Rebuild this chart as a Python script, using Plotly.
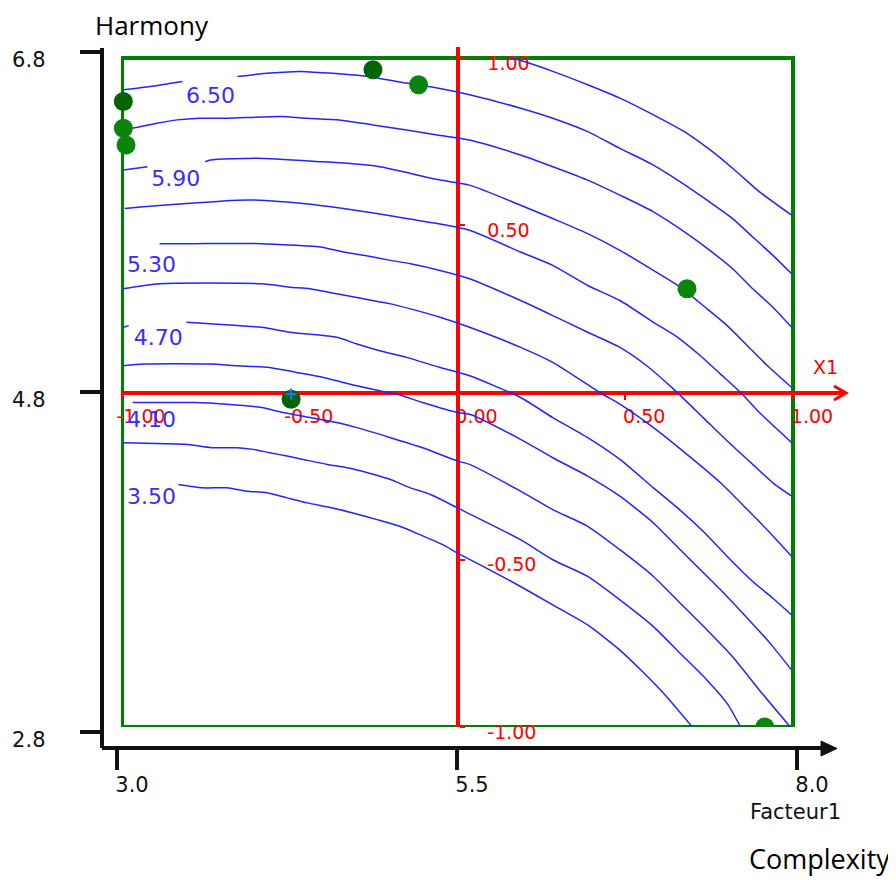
import plotly.graph_objects as go

# ---------------- data (Facteur1 / Harmony real units) ----------------
levels = [6.80, 6.50, 6.20, 5.90, 5.60, 5.30, 5.00, 4.70, 4.40, 4.10, 3.80, 3.50]

c680_x = [5.90, 5.99, 6.21, 6.47, 6.71, 6.96, 7.21, 7.40, 7.58, 7.75, 7.99]
c680_y = [6.80, 6.78, 6.72, 6.64, 6.56, 6.46, 6.35, 6.24, 6.12, 6.00, 5.86]

c650_x = [3.01, 3.21, 3.45, None, 3.86, 4.10, 4.33, 4.54, 4.83, 5.12, 5.35, 5.59, 5.97,
          6.21, 6.47, 6.71, 6.96, 7.16, 7.36, 7.55, 7.70, 7.85, 7.99]
c650_y = [6.61, 6.63, 6.66, None, 6.69, 6.71, 6.72, 6.71, 6.69, 6.65, 6.62, 6.58, 6.50,
          6.44, 6.36, 6.26, 6.16, 6.06, 5.95, 5.84, 5.73, 5.62, 5.51]

c620_x = [3.01, 3.08, 3.26, 3.41, 3.58, 3.78, 4.18, 4.38, 4.62, 4.87, 5.12, 5.35, 5.59,
          5.97, 6.21, 6.47, 6.71, 6.96, 7.21, 7.38, 7.55, 7.70, 7.85, 7.99]
c620_y = [6.38, 6.38, 6.41, 6.43, 6.44, 6.44, 6.45, 6.44, 6.43, 6.40, 6.37, 6.34, 6.31,
          6.22, 6.15, 6.07, 5.98, 5.88, 5.75, 5.65, 5.54, 5.42, 5.31, 5.19]

c590_x = [3.01, 3.19, None, 3.62, 3.66, 4.01, 4.48, 4.68, 4.92, 5.15, 5.37, 5.59, 5.97,
          6.21, 6.47, 6.71, 6.96, 7.16, 7.36, 7.51, 7.66, 7.81, 7.99]
c590_y = [6.13, 6.15, None, 6.18, 6.19, 6.20, 6.18, 6.17, 6.15, 6.11, 6.07, 6.04, 5.92,
          5.84, 5.75, 5.65, 5.53, 5.43, 5.30, 5.20, 5.08, 4.96, 4.83]

c560_x = [3.02, 3.16, 3.48, 3.86, 4.03, 4.35, 4.65, 4.90, 5.12, 5.35, 5.59, 5.97, 6.21,
          6.47, 6.71, 6.96, 7.14, 7.31, 7.46, 7.61, 7.75, 7.99]
c560_y = [5.90, 5.91, 5.93, 5.95, 5.95, 5.93, 5.90, 5.87, 5.84, 5.81, 5.77, 5.64, 5.56,
          5.44, 5.35, 5.22, 5.13, 5.02, 4.91, 4.80, 4.68, 4.50]

c530_x = [3.28, 3.53, 4.04, 4.29, 4.48, 4.65, 4.80, 5.00, 5.15, 5.37, 5.59, 5.97, 6.21,
          6.47, 6.71, 6.91, 7.11, 7.33, 7.51, 7.70, 7.85, 7.99]
c530_y = [5.69, 5.69, 5.69, 5.68, 5.67, 5.64, 5.62, 5.59, 5.57, 5.53, 5.48, 5.35, 5.26,
          5.16, 5.07, 4.96, 4.82, 4.65, 4.51, 4.37, 4.26, 4.18]

c500_x = [3.01, 3.28, 4.04, 4.25, 4.40, 4.60, 4.80, 5.00, 5.15, 5.37, 5.59, 5.97, 6.21,
          6.56, 6.71, 6.96, 7.21, 7.46, 7.66, 7.83, 7.99]
c500_y = [5.42, 5.45, 5.45, 5.43, 5.42, 5.39, 5.36, 5.33, 5.30, 5.25, 5.19, 5.07, 4.98,
          4.80, 4.73, 4.59, 4.43, 4.26, 4.10, 3.96, 3.82]

c470_x = [3.01, 3.05, None, 3.48, 3.86, 4.04, 4.25, 4.60, 4.75, 4.92, 5.12, 5.37, 5.59,
          5.97, 6.21, 6.47, 6.71, 6.96, 7.14, 7.33, 7.51, 7.70, 7.85, 7.99]
c470_y = [5.19, 5.20, None, 5.22, 5.20, 5.19, 5.16, 5.13, 5.09, 5.05, 5.01, 4.95, 4.90,
          4.77, 4.65, 4.53, 4.40, 4.23, 4.11, 3.97, 3.82, 3.67, 3.57, 3.47]

c440_x = [3.01, 3.16, 3.66, 3.86, 4.10, 4.30, 4.50, 4.75, 4.92, 5.05, 5.24, 5.50, 5.59,
          5.97, 6.21, 6.47, 6.71, 6.96, 7.11, 7.31, 7.46, 7.66, 7.83, 7.99]
c440_y = [4.96, 4.97, 4.97, 4.96, 4.95, 4.92, 4.89, 4.84, 4.81, 4.79, 4.74, 4.68, 4.67,
          4.52, 4.41, 4.30, 4.18, 4.02, 3.90, 3.74, 3.62, 3.45, 3.30, 3.14]

c410_x = [3.08, 3.53, 3.78, 4.04, 4.20, 4.60, 4.75, 5.00, 5.24, 5.50, 5.59, 5.97, 6.21,
          6.47, 6.71, 6.96, 7.16, 7.36, 7.55, 7.75, 7.98]
c410_y = [4.74, 4.74, 4.73, 4.71, 4.68, 4.62, 4.59, 4.53, 4.47, 4.39, 4.37, 4.21, 4.10,
          4.00, 3.86, 3.70, 3.54, 3.38, 3.22, 3.02, 2.80]

c380_x = [3.01, 3.47, 3.67, 3.86, 3.98, 4.10, 4.23, 4.35, 4.53, 4.68, 4.83, 5.00, 5.15,
          5.30, 5.50, 5.97, 6.21, 6.47, 6.71, 6.96, 7.16, 7.36, 7.51, 7.61]
c380_y = [4.50, 4.49, 4.47, 4.47, 4.46, 4.44, 4.42, 4.40, 4.37, 4.35, 4.32, 4.28, 4.23,
          4.19, 4.11, 3.92, 3.80, 3.70, 3.56, 3.40, 3.24, 3.08, 2.94, 2.80]

c350_x = [3.42, 3.60, 3.78, 3.93, 4.08, 4.23, 4.38, 4.57, 4.72, 4.90, 5.07, 5.22, 5.39,
          5.50, 5.74, 5.97, 6.21, 6.47, 6.71, 6.88, 7.06, 7.25]
c350_y = [4.25, 4.23, 4.23, 4.21, 4.20, 4.17, 4.14, 4.11, 4.08, 4.04, 4.00, 3.95, 3.89,
          3.84, 3.74, 3.64, 3.53, 3.41, 3.26, 3.13, 2.98, 2.80]

contour_xs = [c680_x, c650_x, c620_x, c590_x, c560_x, c530_x,
              c500_x, c470_x, c440_x, c410_x, c380_x, c350_x]
contour_ys = [c680_y, c650_y, c620_y, c590_y, c560_y, c530_y,
              c500_y, c470_y, c440_y, c410_y, c380_y, c350_y]

labelled_levels = [6.50, 5.90, 5.30, 4.70, 4.10, 3.50]

# experimental points
dark_pts_x = [3.01, 4.87, 4.26]
dark_pts_y = [6.54, 6.73, 4.76]
light_pts_x = [3.01, 3.03, 5.21, 7.21]
light_pts_y = [6.38, 6.28, 6.64, 5.42]
edge_pts_x = [7.79]
edge_pts_y = [2.80]

# tick labels
real_x_ticks = [3.0, 5.5, 8.0]
real_x_text = ["3.0", "5.5", "8.0"]
real_y_ticks = [2.8, 4.8, 6.8]
real_y_text = ["2.8", "4.8", "6.8"]
coded_x_ticks = [3.0, 4.25, 5.5, 6.75, 8.0]
coded_x_text = ["-1.00", "-0.50", "0.00", "0.50", "1.00"]
coded_y_ticks = [2.8, 3.8, 5.8, 6.8]
coded_y_text = ["-1.00", "-0.50", "0.50", "1.00"]

# ---------------- layout helpers ----------------
# the page body has an 8px margin, so the figure is 8px smaller on each side
OFF = 8
W, H = 896 - OFF, 880 - OFF


def px(x):
    return (x - OFF) / W


def py(y):
    return 1 - (y - OFF) / H


BLUE_LINE = "#2424ff"
BLUE_TEXT = "#3b2cff"
RED = "#ff0000"
GREEN = "#008000"
DARK_GREEN = "#006400"
BLACK = "#111111"

fig = go.Figure()

# dummy trace so the black (real-unit) axes are drawn
fig.add_trace(go.Scatter(x=[5.5], y=[4.8], mode="markers",
                         marker=dict(size=1, opacity=0), hoverinfo="skip",
                         showlegend=False))

for xs, ys in zip(contour_xs, contour_ys):
    fig.add_trace(go.Scatter(x=xs, y=ys, xaxis="x2", yaxis="y2", mode="lines",
                             line=dict(color=BLUE_LINE, width=1.5, shape="spline",
                                       smoothing=0.6),
                             connectgaps=False, hoverinfo="skip", showlegend=False))

# contour labels (positions are layout)
label_pos_x = [3.66, 3.40, 3.22, 3.27, 3.22, 3.22]
label_pos_y = [6.565, 6.065, 5.555, 5.115, 4.625, 4.165]
fig.add_trace(go.Scatter(x=label_pos_x, y=label_pos_y, xaxis="x2", yaxis="y2",
                         mode="text", text=[f"{v:.2f}" for v in labelled_levels],
                         textposition="middle center",
                         textfont=dict(family="DejaVu Sans", size=22, color=BLUE_TEXT),
                         cliponaxis=False, hoverinfo="skip", showlegend=False))

fig.add_trace(go.Scatter(x=light_pts_x, y=light_pts_y, xaxis="x2", yaxis="y2",
                         mode="markers", marker=dict(size=19, color="#0b840b"),
                         cliponaxis=False, hoverinfo="skip", showlegend=False))
fig.add_trace(go.Scatter(x=edge_pts_x, y=edge_pts_y, xaxis="x2", yaxis="y2",
                         mode="markers", marker=dict(size=19, color="#0b840b"),
                         cliponaxis=True, hoverinfo="skip", showlegend=False))
fig.add_trace(go.Scatter(x=dark_pts_x, y=dark_pts_y, xaxis="x2", yaxis="y2",
                         mode="markers", marker=dict(size=19, color=DARK_GREEN),
                         cliponaxis=False, hoverinfo="skip", showlegend=False))
fig.add_trace(go.Scatter(x=[dark_pts_x[2]], y=[dark_pts_y[2] + 0.03], xaxis="x2", yaxis="y2",
                         mode="markers",
                         marker=dict(symbol="cross-thin", size=8,
                                     line=dict(color="#2a6cff", width=2)),
                         cliponaxis=False, hoverinfo="skip", showlegend=False))

shapes = [
    dict(type="rect", xref="x2", yref="y2", x0=3.0, x1=8.0, y0=2.8, y1=6.8,
         line=dict(color=GREEN, width=4), layer="below"),
    dict(type="path", xref="paper", yref="paper",
         path=f"M {px(821)} {py(741)} L {px(837)} {py(748.5)} L {px(821)} {py(756)} Z",
         fillcolor=BLACK, line=dict(color=BLACK, width=1)),
    dict(type="path", xref="paper", yref="paper",
         path=f"M {px(834)} {py(386)} L {px(846)} {py(393)} L {px(834)} {py(400)}",
         line=dict(color=RED, width=3)),
]

annotations = [
    dict(text="Harmony", x=px(152), y=py(25), xref="paper", yref="paper",
         showarrow=False, xanchor="center", yanchor="middle",
         font=dict(family="Open Sans", size=26, color="#000000")),
    dict(text="Complexity", x=px(819), y=py(858), xref="paper", yref="paper",
         showarrow=False, xanchor="center", yanchor="middle",
         font=dict(family="Open Sans", size=27, color="#000000")),
    dict(text="Facteur1", x=px(795), y=py(812), xref="paper", yref="paper",
         showarrow=False, xanchor="center", yanchor="middle",
         font=dict(family="DejaVu Sans", size=21, color=BLACK)),
    dict(text="X1", x=px(825), y=py(367), xref="paper", yref="paper",
         showarrow=False, xanchor="center", yanchor="middle",
         font=dict(family="DejaVu Sans", size=19, color=RED)),
]

fig.update_layout(
    width=W, height=H,
    margin=dict(l=0, r=0, t=0, b=0, pad=0, autoexpand=False),
    paper_bgcolor="white", plot_bgcolor="rgba(0,0,0,0)",
    showlegend=False,
    shapes=shapes, annotations=annotations,
    xaxis=dict(domain=[px(101.7), px(830)],
               range=[3.0 - (117 - 101.7) / 136, 3.0 + (830 - 117) / 136],
               anchor="free", position=py(748), automargin=False,
               showline=True, linecolor=BLACK, linewidth=4,
               ticks="outside", ticklen=20, tickwidth=4, tickcolor=BLACK,
               tickvals=real_x_ticks, ticktext=real_x_text,
               tickfont=dict(family="DejaVu Sans", size=21, color=BLACK),
               ticklabelshift=15, ticklabelstandoff=-3,
               showgrid=False, zeroline=False, fixedrange=True),
    yaxis=dict(domain=[py(748), py(48)],
               range=[2.8 - (748 - 732) / 170, 6.8 + (52 - 48) / 170],
               anchor="free", position=px(101.7), automargin=False,
               showline=True, linecolor=BLACK, linewidth=4,
               ticks="outside", ticklen=20, tickwidth=4, tickcolor=BLACK,
               tickvals=real_y_ticks, ticktext=real_y_text,
               tickfont=dict(family="DejaVu Sans", size=21, color=BLACK),
               ticklabelshift=8, ticklabelstandoff=30,
               showgrid=False, zeroline=False, fixedrange=True),
    xaxis2=dict(domain=[px(121), px(845)],
                range=[3.0 - 1 / 134.2, 3.0 + (845 - 122) / 134.2],
                anchor="free", position=py(393), automargin=False,
                showline=True, linecolor=RED, linewidth=4, layer="below traces",
                ticks="outside", ticklen=5, tickwidth=2, tickcolor=RED,
                tickvals=coded_x_ticks, ticktext=coded_x_text,
                tickfont=dict(family="DejaVu Sans", size=19, color=RED),
                ticklabelshift=19, ticklabelstandoff=0,
                showgrid=False, zeroline=False, fixedrange=True),
    yaxis2=dict(domain=[py(727), py(47)],
                range=[2.8, 6.8 + 11 / 167.25],
                anchor="free", position=px(457.5), side="right", automargin=False,
                showline=True, linecolor=RED, linewidth=4, layer="below traces",
                ticks="outside", ticklen=5, tickwidth=2, tickcolor=RED,
                tickvals=coded_y_ticks, ticktext=coded_y_text,
                tickfont=dict(family="DejaVu Sans", size=19, color=RED),
                ticklabelshift=5, ticklabelstandoff=19,
                showgrid=False, zeroline=False, fixedrange=True),
)

fig.write_html("out.html")
